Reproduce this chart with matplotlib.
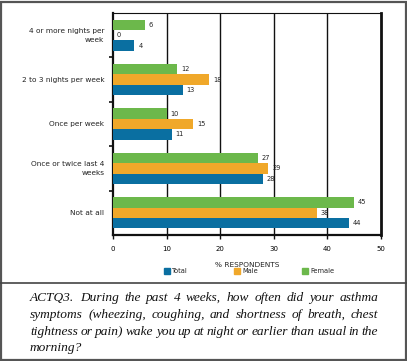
import numpy as np
import matplotlib.pyplot as plt
from matplotlib.patches import Rectangle
from matplotlib.lines import Line2D

# answer options, top to bottom
categories = ["4 or more nights per\nweek", "2 to 3 nights per week", "Once per week",
              "Once or twice last 4\nweeks", "Not at all"]
series_names = ["Female", "Male", "Total"]
female = [6, 12, 10, 27, 45]
male = [0, 18, 15, 29, 38]
total = [4, 13, 11, 28, 44]
colors = {"Total": "#0a6fa1", "Male": "#f0a82a", "Female": "#6cb84b"}
xticks = [0, 10, 20, 30, 40, 50]
caption = ["ACTQ3. During the past 4 weeks, how often did your asthma",
           "symptoms (wheezing, coughing, and shortness of breath, chest",
           "tightness or pain) wake you up at night or earlier than usual in the",
           "morning?"]

W, H = 407, 361
fig = plt.figure(figsize=(W / 100, H / 100), dpi=100)
ax = fig.add_axes([113 / W, 1 - 235 / H, 268 / W, 222 / H])

values = {"Female": female, "Male": male, "Total": total}
y = np.arange(len(categories))
bh = 0.235
for i, name in enumerate(series_names):
    pos = y + (i - 1) * bh
    ax.barh(pos, values[name], height=bh, color=colors[name], zorder=3)
    for p, v in zip(pos, values[name]):
        ax.text(v + 0.7, p, str(v), va="center", ha="left", fontsize=4.8,
                color="#222222", zorder=4)

ax.set_xlim(0, 50)
ax.set_ylim(len(categories) - 0.5, -0.5)
ax.set_xticks(xticks)
ax.set_xticklabels([str(t) for t in xticks], fontsize=5)
ax.set_yticks(y[:-1] + 0.5)
ax.set_yticklabels([])
ax.tick_params(axis="y", length=3, width=1.2, direction="out", color="#111111")
ax.tick_params(axis="x", length=3, width=1.0, direction="out", pad=5, color="#111111")
for xt in xticks[1:-1]:
    ax.axvline(xt, color="#111111", lw=1.0, zorder=1)
for sp in ["left", "bottom"]:
    ax.spines[sp].set_linewidth(1.6)
    ax.spines[sp].set_color("#111111")
ax.spines["right"].set_linewidth(2.0)
ax.spines["right"].set_color("#111111")
ax.spines["top"].set_linewidth(0.8)
ax.spines["top"].set_color("#111111")

for yi, cat in zip(y, categories):
    ax.text(-1.6, yi, cat, ha="right", va="center", fontsize=5.3,
            color="#222222", linespacing=1.6, multialignment="right")

ax.set_xlabel("% RESPONDENTS", fontsize=5.3, labelpad=7, color="#222222")

# legend row
leg_x = {"Total": 164, "Male": 234, "Female": 302}
for name in ["Total", "Male", "Female"]:
    fig.add_artist(Rectangle((leg_x[name] / W, 1 - 274 / H), 6 / W, 6 / H,
                             transform=fig.transFigure, color=colors[name]))
    fig.text((leg_x[name] + 8) / W, 1 - 271 / H, name, fontsize=4.8,
             va="center", ha="left", color="#222222")

# frame and caption box
fig.add_artist(Rectangle((1 / W, 1 / H), (W - 2.5) / W, (H - 2.5) / H,
                         transform=fig.transFigure, fill=False,
                         edgecolor="#555555", lw=1.6))
fig.add_artist(Line2D([0, 1], [1 - 283 / H, 1 - 283 / H],
                      transform=fig.transFigure, color="#444444", lw=1.2))

# justified caption
fig.canvas.draw()
renderer = fig.canvas.get_renderer()
x0, x1 = 30, 378
fs = 9.6
for li, line in enumerate(caption):
    ypos = 1 - (298 + li * 16.8) / H
    words = line.split(" ")
    if li == len(caption) - 1:
        fig.text(x0 / W, ypos, line, fontsize=fs, family="Liberation Serif",
                 style="italic", va="center", ha="left", color="#111111")
        continue
    objs = [fig.text(0, ypos, w, fontsize=fs, family="Liberation Serif",
                     style="italic", va="center", ha="left", color="#111111")
            for w in words]
    widths = [o.get_window_extent(renderer).width for o in objs]
    gap = (x1 - x0 - sum(widths)) / (len(words) - 1)
    xp = x0
    for o, wd in zip(objs, widths):
        o.set_x(xp / W)
        xp += wd + gap

fig.savefig("out.png", dpi=100)
